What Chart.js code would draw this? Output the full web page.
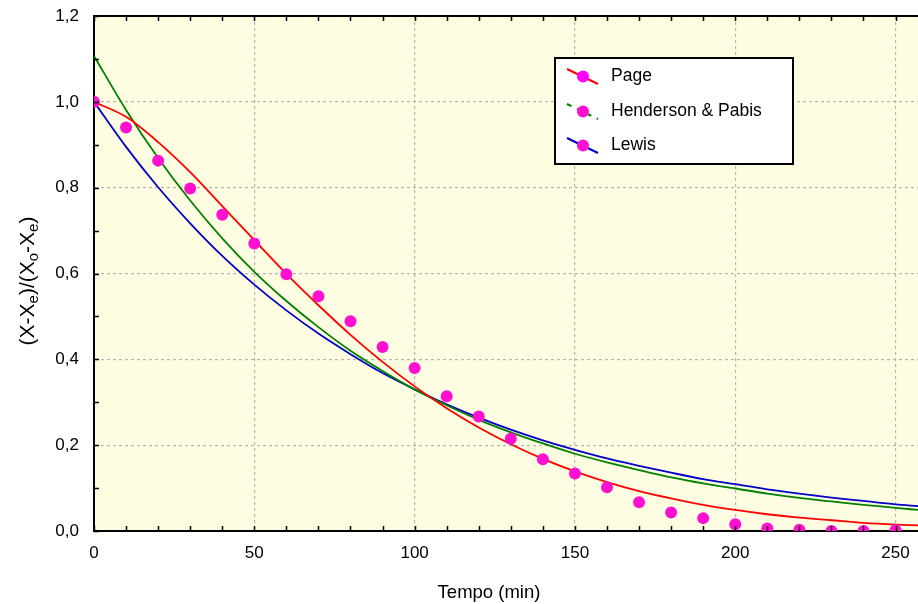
<!DOCTYPE html>
<html>
<head>
<meta charset="utf-8">
<script src="https://cdn.jsdelivr.net/npm/chart.js@4.4.0/dist/chart.umd.min.js"></script>
<style>
  html, body { margin: 0; padding: 0; background: #fff; }
  #caja { width: 918px; height: 604px; }
</style>
</head>
<body>
<div id="caja"><canvas id="myChart" width="918" height="604"></canvas></div>
<script>
// tempos medidos (min) e razão de umidade observada
const tempo = [0, 10, 20, 30, 40, 50, 60, 70, 80, 90, 100, 110, 120, 130, 140, 150, 160, 170, 180, 190, 200, 210, 220, 230, 240, 250];
const observado = [1.0, 0.940, 0.863, 0.798, 0.737, 0.670, 0.598, 0.547, 0.489, 0.429, 0.380, 0.314, 0.267, 0.215, 0.167, 0.134, 0.102, 0.067, 0.043, 0.030, 0.016, 0.006, 0.003, 0.0, 0.0, 0.002];

// curvas ajustadas
const tempoCurva = [0, 10, 20, 30, 40, 50, 60, 70, 80, 90, 100, 110, 120, 130, 140, 150, 160, 170, 180, 190, 200, 210, 220, 230, 240, 250, 257];
const page = [1.0, 0.965, 0.906, 0.836, 0.757, 0.678, 0.599, 0.526, 0.457, 0.394, 0.337, 0.286, 0.241, 0.202, 0.168, 0.139, 0.114, 0.093, 0.076, 0.061, 0.049, 0.039, 0.031, 0.025, 0.019, 0.015, 0.013];
const henderson = [1.107, 0.981, 0.869, 0.770, 0.682, 0.604, 0.536, 0.475, 0.420, 0.373, 0.330, 0.293, 0.259, 0.230, 0.204, 0.180, 0.160, 0.142, 0.125, 0.111, 0.099, 0.087, 0.077, 0.069, 0.061, 0.054, 0.049];
const lewis = [1.0, 0.895, 0.801, 0.717, 0.641, 0.574, 0.514, 0.460, 0.412, 0.368, 0.330, 0.295, 0.264, 0.236, 0.211, 0.189, 0.169, 0.152, 0.136, 0.121, 0.109, 0.097, 0.087, 0.078, 0.070, 0.062, 0.058];

// rótulos
const modelos = ["Page", "Henderson & Pabis", "Lewis"];
const coresModelos = ["#ff0000", "#008000", "#0000c8"];
const tituloX = "Tempo (min)";

const fonte = "'Liberation Sans', Arial, sans-serif";
const corPonto = "#ff10d0";

const pares = (xs, ys) => xs.map((x, i) => ({x: x, y: ys[i]}));

// fundo amarelo da área do gráfico
const fundo = {
    id: "fundo",
    beforeDraw(chart){
        const {ctx, chartArea: a} = chart;
        ctx.save();
        ctx.fillStyle = "#fffde1";
        ctx.fillRect(a.left, a.top, a.right - a.left, a.bottom - a.top);
        ctx.restore();
    }
};

// marcas de escala para dentro, borda de cima, títulos e legenda
const extras = {
    id: "extras",
    afterDraw(chart){
        const {ctx, chartArea: a} = chart;
        const sx = chart.scales.x;
        const sy = chart.scales.y;
        ctx.save();
        ctx.strokeStyle = "#000";
        ctx.lineWidth = 1.5;
        ctx.beginPath();
        sx.ticks.forEach(t => {
            if (t.value % 10 !== 0) return;
            const px = Math.round(sx.getPixelForValue(t.value)) + 0.5;
            ctx.moveTo(px, a.bottom); ctx.lineTo(px, a.bottom - 5);
            ctx.moveTo(px, a.top); ctx.lineTo(px, a.top + 5);
        });
        sy.ticks.forEach(t => {
            const py = Math.round(sy.getPixelForValue(t.value)) + 0.5;
            ctx.moveTo(a.left, py); ctx.lineTo(a.left + 5, py);
        });
        ctx.stroke();
        // borda superior
        ctx.lineWidth = 2;
        ctx.beginPath();
        ctx.moveTo(a.left - 1, a.top);
        ctx.lineTo(a.right, a.top);
        ctx.stroke();

        // título do eixo X
        ctx.fillStyle = "#000";
        ctx.font = "18.5px " + fonte;
        ctx.textAlign = "center";
        ctx.textBaseline = "middle";
        ctx.fillText(tituloX, 489, 593);
        ctx.textAlign = "left";

        // título do eixo Y com subscritos
        const partes = [["(X-X", 0], ["e", 1], [")/(X", 0], ["o", 1], ["-X", 0], ["e", 1], [")", 0]];
        const fN = "21px " + fonte, fS = "15px " + fonte;
        let total = 0;
        partes.forEach(p => { ctx.font = p[1] ? fS : fN; total += ctx.measureText(p[0]).width; });
        ctx.translate(34, 281);
        ctx.rotate(-Math.PI / 2);
        ctx.textBaseline = "alphabetic";
        let cx = -total / 2;
        partes.forEach(p => {
            ctx.font = p[1] ? fS : fN;
            ctx.fillText(p[0], cx, p[1] ? 4 : 0);
            cx += ctx.measureText(p[0]).width;
        });
        ctx.setTransform(1, 0, 0, 1, 0, 0);

        // legenda
        ctx.fillStyle = "#fff";
        ctx.fillRect(555, 58, 238, 106);
        ctx.lineWidth = 2;
        ctx.strokeStyle = "#000";
        ctx.strokeRect(555, 58, 238, 106);
        const linhas = [76, 111, 145];
        const coresPt = ["#ff00ff", corPonto, corPonto];
        modelos.forEach((nome, i) => {
            const y = linhas[i];
            ctx.strokeStyle = coresModelos[i];
            ctx.lineWidth = 2;
            ctx.setLineDash(i === 1 ? [5, 6] : []);
            ctx.beginPath();
            ctx.moveTo(567, y - 7);
            ctx.lineTo(598, y + 8);
            ctx.stroke();
            ctx.setLineDash([]);
            ctx.fillStyle = coresPt[i];
            ctx.beginPath();
            ctx.arc(583, y + 0.5, 6, 0, Math.PI * 2);
            ctx.fill();
            ctx.fillStyle = "#000";
            ctx.font = "17.5px " + fonte;
            ctx.textBaseline = "middle";
            ctx.fillText(nome, 611, y);
        });
        ctx.restore();
    }
};

const dataSets = [{
    type: "scatter",
    label: "observado",
    data: pares(tempo, observado),
    backgroundColor: corPonto,
    borderColor: corPonto,
    pointRadius: 6,
    pointHoverRadius: 6,
    borderWidth: 0
}];
[page, henderson, lewis].forEach((serie, i) => {
    dataSets.push({
        type: "line",
        label: modelos[i],
        data: pares(tempoCurva, serie),
        borderColor: coresModelos[i],
        borderWidth: 1.8,
        pointRadius: 0,
        fill: false,
        cubicInterpolationMode: "monotone"
    });
});

const myChart = new Chart(document.getElementById("myChart"), {
    data: { datasets: dataSets },
    options: {
        responsive: false,
        animation: false,
        events: [],
        layout: { autoPadding: false, padding: { left: 0, top: 16, right: 0, bottom: 0 } },
        plugins: { legend: { display: false }, tooltip: { enabled: false } },
        scales: {
            x: {
                type: "linear",
                min: 0,
                max: 257,
                afterFit: s => { s.height = 73; s.paddingLeft = 0; s.paddingRight = 0; },
                ticks: {
                    stepSize: 10,
                    includeBounds: false,
                    autoSkip: false,
                    maxRotation: 0,
                    padding: 12,
                    color: "#000",
                    font: { family: fonte, size: 17 },
                    callback: v => (v % 50 === 0 ? String(v) : "")
                },
                grid: {
                    drawTicks: false,
                    lineWidth: 1.2,
                    color: c => (c.tick && c.tick.value % 50 === 0 && c.tick.value > 0 ? "#b4b4b4" : "transparent")
                },
                border: { color: "#000", width: 2, dash: [3, 3] }
            },
            y: {
                type: "linear",
                min: 0,
                max: 1.2,
                afterFit: s => { s.width = 94; s.paddingTop = 0; s.paddingBottom = 0; },
                ticks: {
                    stepSize: 0.1,
                    autoSkip: false,
                    padding: 15,
                    color: "#000",
                    font: { family: fonte, size: 17 },
                    callback: v => {
                        const d = Math.round(v * 10);
                        return d % 2 === 0 ? (d / 10).toFixed(1).replace(".", ",") : "";
                    }
                },
                grid: {
                    drawTicks: false,
                    lineWidth: 1.2,
                    color: c => {
                        if (!c.tick) return "transparent";
                        const d = Math.round(c.tick.value * 10);
                        return d % 2 === 0 && d > 0 && d < 12 ? "#b4b4b4" : "transparent";
                    }
                },
                border: { color: "#000", width: 2, dash: [3, 3] }
            }
        }
    },
    plugins: [fundo, extras]
});
</script>
</body>
</html>
